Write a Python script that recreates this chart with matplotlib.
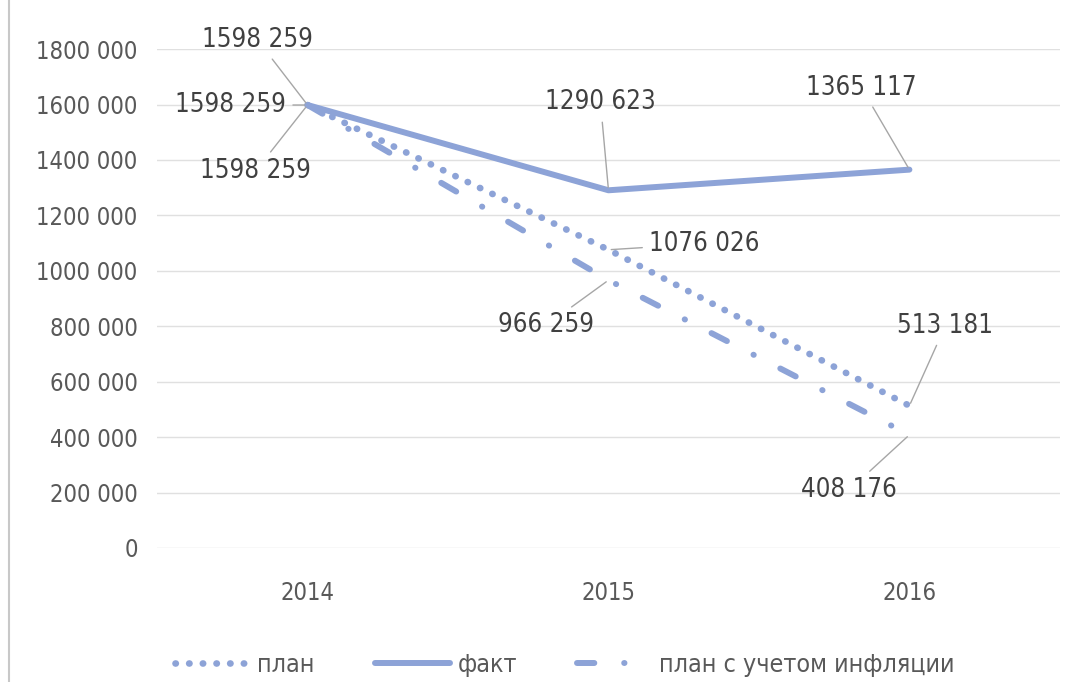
import matplotlib
matplotlib.use("Agg")
import matplotlib.pyplot as plt
from matplotlib.lines import Line2D

# data
years = ["2014", "2015", "2016"]
plan = [1598259, 1076026, 513181]
fact = [1598259, 1290623, 1365117]
plan_infl = [1598259, 966259, 408176]
yticks = [0, 200000, 400000, 600000, 800000, 1000000, 1200000, 1400000, 1600000, 1800000]

plt.rcParams['font.family'] = ['DejaVu Sans']
plt.rcParams['font.stretch'] = 'condensed'
col = '#8da3d7'
txt = '#595959'
lw = 4.3
dots = (0, (0.05, 2.0))
dashdot = (0, (2.9, 5.0, 0.05, 5.0))


def fmt(v):
    s = f"{v:,}".replace(",", " ")
    if v >= 1000000:
        s = s.replace(" ", "", 1)
    return s


fig = plt.figure(figsize=(10.76, 6.82), dpi=100)
ax = fig.add_axes([0.146, 0.1965, 0.839, 0.7315])
x = range(len(years))

ax.plot(x, plan, color=col, lw=4.8, linestyle=dots, dash_capstyle='round', label='план')
ax.plot(x, fact, color=col, lw=lw, solid_capstyle='round', solid_joinstyle='round', label='факт')
ax.plot(x, plan_infl, color=col, lw=lw, linestyle=dashdot, dash_capstyle='round',
        label='план с учетом инфляции')

ax.set_xlim(-0.5, 2.5)
ax.set_ylim(0, 1800000)
ax.set_yticks(yticks)
ax.set_yticklabels([fmt(v) for v in yticks])
ax.set_xticks(list(x))
ax.set_xticklabels(years)
ax.tick_params(length=0, labelsize=17, colors=txt, pad=14)
ax.tick_params(axis='x', pad=24)
ax.grid(axis='y', color='#e0e0e0', lw=1)
ax.set_axisbelow(True)
for s in ax.spines.values():
    s.set_visible(False)

# labels: (x index, value, dx px, dy px)
labels = [
    (0, fact[0], -50, 65),
    (0, plan[0], -77, 0),
    (0, plan_infl[0], -52, -66),
    (1, fact[1], -8, 88),
    (2, fact[2], -48, 82),
    (1, plan[1], 96, 6),
    (1, plan_infl[1], -62, -45),
    (2, plan[2], 36, 80),
    (2, plan_infl[2], -60, -55),
]
for i, v, dx, dy in labels:
    ax.annotate(fmt(v), (i, v), xytext=(dx, dy), textcoords='offset pixels',
                ha='center', va='center', fontsize=18.5, color='#404040',
                arrowprops=dict(arrowstyle='-', color='#a6a6a6', lw=1, shrinkA=3, shrinkB=2))

handles = [
    Line2D([], [], color=col, lw=4.8, linestyle=dots, dash_capstyle='round'),
    Line2D([], [], color=col, lw=lw, solid_capstyle='round'),
    Line2D([], [], color=col, lw=lw, linestyle=dashdot, dash_capstyle='round'),
]
leg = fig.legend(handles, ['план', 'факт', 'план с учетом инфляции'], loc='center',
                 bbox_to_anchor=(0.525, 0.025), ncol=3, frameon=False, fontsize=18,
                 handlelength=3.0, columnspacing=2.4, handletextpad=0.3)
for t in leg.get_texts():
    t.set_color(txt)

fig.add_artist(Line2D([0.008, 0.008], [0, 1], color='#c8c8c8', lw=1.5))

fig.savefig("out.png", dpi=100)
